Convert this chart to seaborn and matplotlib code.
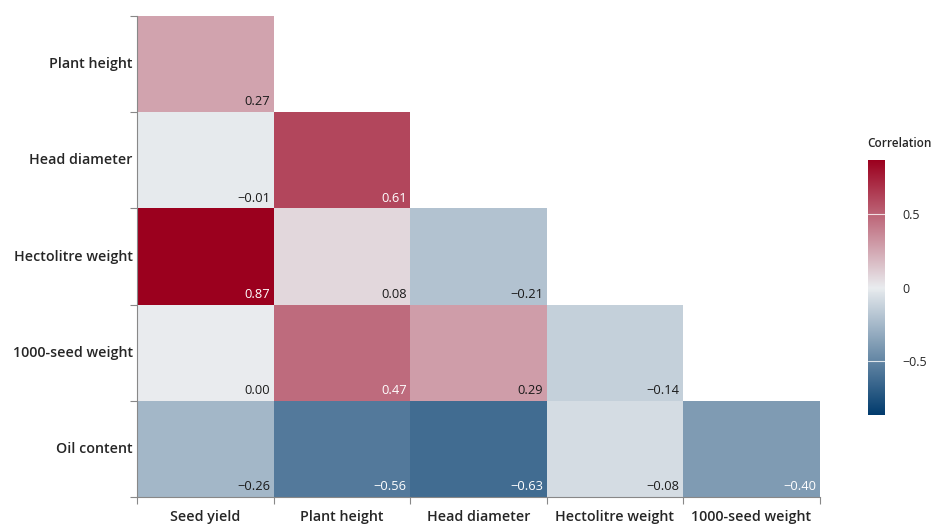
import numpy as np
import pandas as pd
import matplotlib.pyplot as plt
import seaborn as sns
from matplotlib.colors import LinearSegmentedColormap

# Trait names (rows / columns of the lower triangle)
row_traits = ["Plant height", "Head diameter", "Hectolitre weight", "1000-seed weight", "Oil content"]
col_traits = ["Seed yield", "Plant height", "Head diameter", "Hectolitre weight", "1000-seed weight"]

# Correlation values, one list per row (lower triangle only)
plant_height_r = [0.27]
head_diameter_r = [-0.01, 0.61]
hectolitre_r = [0.87, 0.08, -0.21]
seed_weight_r = [0.00, 0.47, 0.29, -0.14]
oil_content_r = [-0.26, -0.56, -0.63, -0.08, -0.40]

rows = [plant_height_r, head_diameter_r, hectolitre_r, seed_weight_r, oil_content_r]
mat = np.full((len(row_traits), len(col_traits)), np.nan)
for i, vals in enumerate(rows):
    mat[i, :len(vals)] = vals
df = pd.DataFrame(mat, index=row_traits, columns=col_traits)

sns.set_theme(style="white")
plt.rcParams['font.family'] = ['Open Sans', 'DejaVu Sans']
plt.rcParams['axes.unicode_minus'] = True

cmap = LinearSegmentedColormap.from_list("corr", ["#013b6d", "#e9ecef", "#9b001e"])
vlim = 0.87

fig = plt.figure(figsize=(9.38, 5.25), dpi=100)
ax = fig.add_axes([0.146, 0.0533, 0.728, 0.9162])
cax = fig.add_axes([0.925, 0.2095, 0.018, 0.4857])

sns.heatmap(df, ax=ax, cbar_ax=cax, cmap=cmap, vmin=-vlim, vmax=vlim,
            mask=df.isna(), linewidths=0, square=False)

# annotations in bottom-right corner of each cell
for i in range(df.shape[0]):
    for j in range(df.shape[1]):
        v = df.iat[i, j]
        if np.isnan(v):
            continue
        color = "white" if abs(v) > 0.35 else "#1a1a1a"
        label = f"{v:.2f}".replace("-", "\u2212")
        ax.text(j + 0.975, i + 0.96, label, ha="right", va="bottom",
                fontsize=9.3, color=color)

# axis styling: spines on left/bottom, ticks at cell boundaries
for side in ["left", "bottom"]:
    ax.spines[side].set_visible(True)
    ax.spines[side].set_color("#888888")
    ax.spines[side].set_linewidth(0.8)
ax.set_xticks(np.arange(len(col_traits)) + 0.5)
ax.set_yticks(np.arange(len(row_traits)) + 0.5)
ax.set_xticklabels(col_traits, rotation=0, fontsize=10.3, fontweight="semibold")
ax.set_yticklabels(row_traits, rotation=0, fontsize=10.3, fontweight="semibold")
ax.set_xticks(np.arange(len(col_traits) + 1), minor=True)
ax.set_yticks(np.arange(len(row_traits) + 1), minor=True)
ax.tick_params(axis="y", which="major", length=0, pad=3)
ax.tick_params(axis="x", which="major", length=0, pad=9)
ax.tick_params(which="minor", length=5, width=0.8, color="#888888",
               bottom=True, left=True)
ax.set_xlabel("")
ax.set_ylabel("")

# colorbar
cbar = ax.collections[0].colorbar
cbar.set_ticks([-0.5, 0, 0.5])
cbar.set_ticklabels(["\u22120.5", "0", "0.5"])
cax.tick_params(length=0, labelsize=9, pad=13)
cbar.outline.set_visible(False)
for t in [-0.5, 0.5]:
    cax.axhline(t, color="white", lw=0.8, alpha=0.8)
cax.text(0, 1.04, "Correlation", transform=cax.transAxes, ha="left", va="bottom",
         fontsize=8.5, fontweight="semibold")

fig.savefig("out.png", dpi=100)
